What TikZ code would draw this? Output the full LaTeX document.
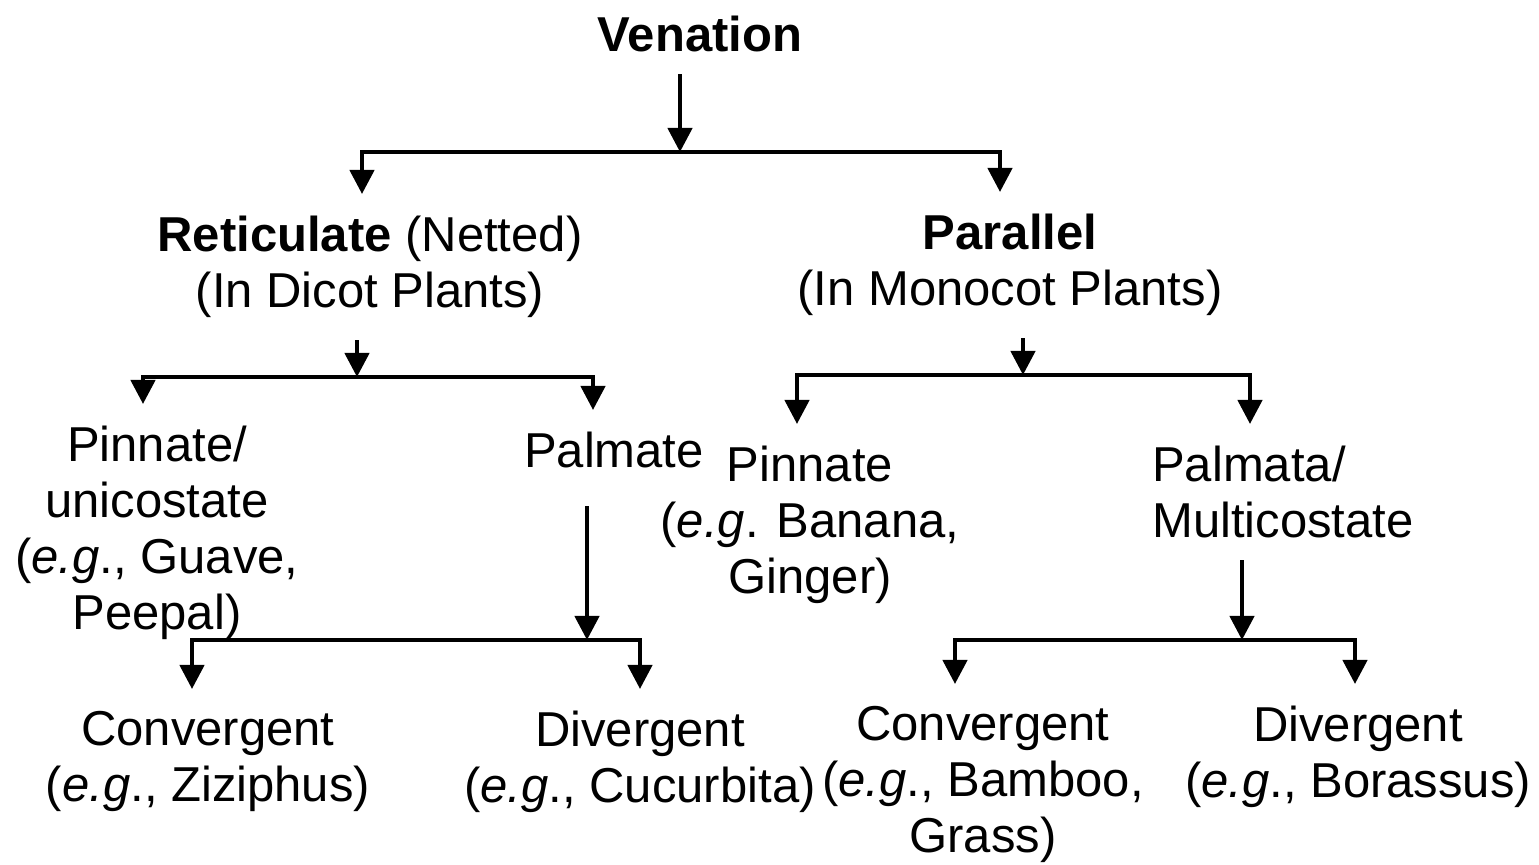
\documentclass[tikz,border=0pt]{standalone}
\usepackage{fontspec}
\setmainfont{Liberation Sans}
\usepackage{tikz}
\usetikzlibrary{arrows.meta}
\usetikzlibrary{positioning}
\tikzset{
	tree/.style={x=0.5pt,y=-0.5pt,line width=2.2pt,line join=miter,
		>={Triangle[length=12pt,width=12pt]}},
	label/.style={anchor=north,align=center,inner xsep=2pt,inner ysep=10pt,
		font=\fontsize{24.5}{28}\selectfont},
	branch/.style={<->},
	stem/.style={->}
}

\begin{document}
\begin{tikzpicture}[tree]
        \useasboundingbox (0,0) rectangle (1539,865);

        % ==================================================
        % 1. TOP: VENATION AND ITS TWO KINDS
        % ==================================================
        \node[label] (ven)   at (700,-6)  {\textbf{Venation}};
        \node[label] (retic) at (370,194) {\textbf{Reticulate} (Netted)\\(In Dicot Plants)};
        \node[label] (para)  at (1010,192) {\textbf{Parallel}\\(In Monocot Plants)};

        \coordinate (vJ) at (680,152);
        \coordinate (vL) at (362,152);
        \coordinate (vR) at (1000,152);
        \draw[stem] (ven.south -| vJ) -- (vJ);
        \draw[branch] (vL |- retic.north) -- (vL) -- (vR) -- (vR |- para.north);

        % ==================================================
        % 2. LEFT SIDE: RETICULATE
        % ==================================================
        \node[label] (pinl)  at (157,404) {Pinnate/\\unicostate\\(\textit{e.g}., Guave,\\Peepal)};
        \node[label] (palml) at (614,410) {Palmate};

        \coordinate (rJ) at (357,377);
        \coordinate (rL) at (143,377);
        \coordinate (rR) at (593,377);
        \draw[stem] (retic.south -| rJ) -- (rJ);
        \draw[branch] (rL |- pinl.north) -- (rL) -- (rR) -- (rR |- palml.north);

        % Palmate: convergent and divergent
        \node[label] (convl) at (208,689) {Convergent\\(\textit{e.g}., Ziziphus)};
        \node[label] (divl)  at (640,689) {Divergent\\(\textit{e.g}., Cucurbita)};

        \coordinate (lJ) at (587,640);
        \coordinate (lL) at (192,640);
        \coordinate (lR) at (640,640);
        \draw[stem,shorten <=8pt] (palml.south -| lJ) -- (lJ);
        \draw[branch] (lL |- convl.north) -- (lL) -- (lR) -- (lR |- divl.north);

        % ==================================================
        % 3. RIGHT SIDE: PARALLEL
        % ==================================================
        \node[label] (pinr)  at (810,424) {Pinnate\\(\textit{e.g}. Banana,\\Ginger)};
        \node[label,align=left] (palmr) at (1283,424) {Palmata/\\Multicostate};

        \coordinate (pJ) at (1023,375);
        \coordinate (pL) at (797,375);
        \coordinate (pR) at (1250,375);
        \draw[stem] (para.south -| pJ) -- (pJ);
        \draw[branch] (pL |- pinr.north) -- (pL) -- (pR) -- (pR |- palmr.north);

        % Palmata/multicostate: convergent and divergent
        \node[label] (convr) at (983,684)  {Convergent\\(\textit{e.g}., Bamboo,\\Grass)};
        \node[label] (divr)  at (1358,684) {Divergent\\(\textit{e.g}., Borassus)};

        \coordinate (mJ) at (1242,640);
        \coordinate (mL) at (955,640);
        \coordinate (mR) at (1355,640);
        \draw[stem] (palmr.south -| mJ) -- (mJ);
        \draw[branch] (mL |- convr.north) -- (mL) -- (mR) -- (mR |- divr.north);

    \end{tikzpicture}
\end{document}
